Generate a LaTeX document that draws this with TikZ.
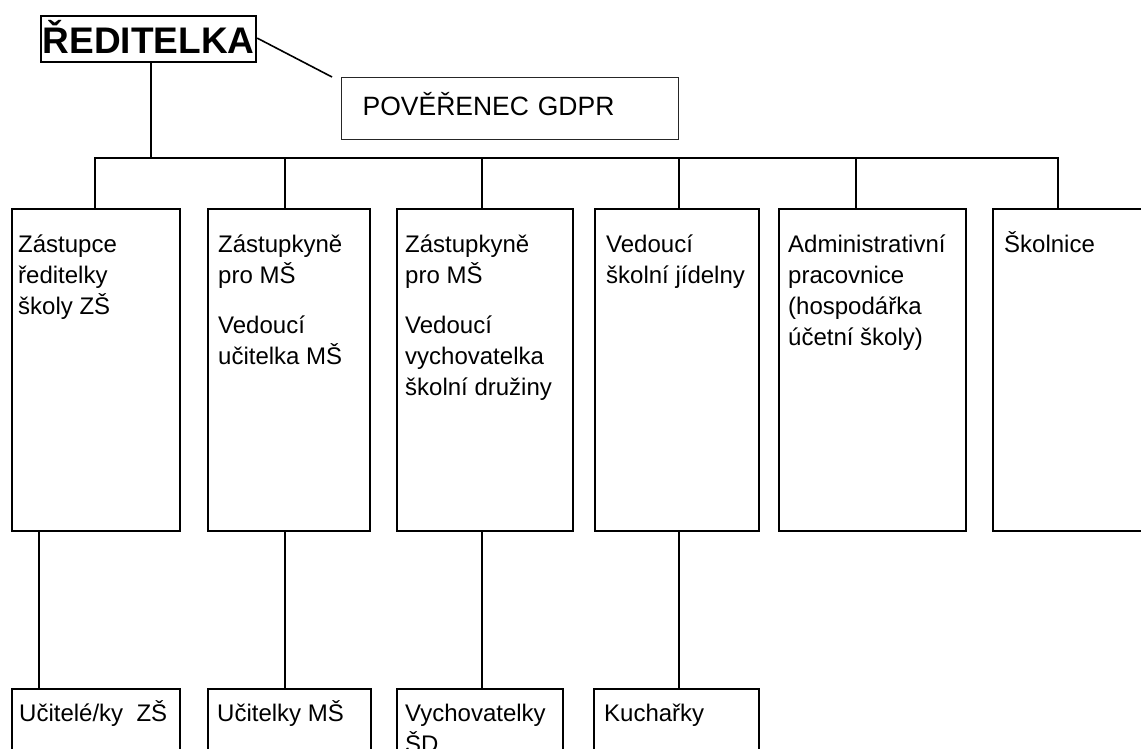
\documentclass[tikz,border=0pt]{standalone}
\usepackage{fontspec}
\setmainfont{Liberation Sans}
\begin{document}
\begin{tikzpicture}[x=1pt,y=-1pt,
  orgbox/.style={draw, line width=2.2pt, inner sep=0pt, anchor=north west},
  boxtxt/.style={anchor=base west, align=left, inner sep=0pt, font=\fontsize{24}{31}\selectfont},
  link/.style={line width=2.2pt}]
\useasboundingbox (0,0) rectangle (1141,749);
\clip (0,0) rectangle (1141,749);
\fill[white] (0,0) rectangle (1141,749);

% top
\node[orgbox, minimum width=215pt, minimum height=46pt, text height=30pt, text depth=2pt,
      font=\bfseries\fontsize{37}{40}\selectfont] (boss) at (40,15) {ŘEDITELKA};
\node[draw=black!85, line width=1.3pt, anchor=north west, inner xsep=21pt, inner ysep=0pt,
      minimum height=62pt, text width=295pt, align=left, text height=20pt, text depth=6pt,
      font=\fontsize{26.5}{30}\selectfont] (gdpr) at (341,77) {POVĚŘENEC GDPR};
\coordinate (gend) at ([shift={(-9,0)}]gdpr.north west);
\draw[line width=1.6pt] ([yshift=1pt]boss.east) -- (gend);

% first row boxes
\node[orgbox, minimum width=168pt, minimum height=322pt] (b1) at (11,208) {};
\node[orgbox, minimum width=162pt, minimum height=322pt] (b2) at (207,208) {};
\node[orgbox, minimum width=176pt, minimum height=322pt] (b3) at (396,208) {};
\node[orgbox, minimum width=164pt, minimum height=322pt] (b4) at (594,208) {};
\node[orgbox, minimum width=187pt, minimum height=322pt] (b5) at (778,208) {};
\node[orgbox, minimum width=180pt, minimum height=322pt] (b6) at (992,208) {};

% base anchor = baseline of the last line; first line baseline is 44 below box top
\node[boxtxt] (t1) at ([shift={(7,106)}]b1.north west) {Zástupce\\ředitelky\\školy ZŠ};
\node[boxtxt] (t2) at ([shift={(11,156)}]b2.north west) {Zástupkyně\\pro MŠ\\[19pt]Vedoucí\\učitelka MŠ};
\node[boxtxt] (t3) at ([shift={(9,187)}]b3.north west) {Zástupkyně\\pro MŠ\\[19pt]Vedoucí\\vychovatelka\\školní družiny};
\node[boxtxt] (t4) at ([shift={(12,75)}]b4.north west) {Vedoucí\\školní jídelny};
\node[boxtxt] (t5) at ([shift={(10,137)}]b5.north west) {Administrativní\\pracovnice\\(hospodářka\\účetní školy)};
\node[boxtxt] (t6) at ([shift={(12,44)}]b6.north west) {Školnice};

% second row boxes
\node[orgbox, minimum width=168pt, minimum height=110pt] (c1) at (11,688) {};
\node[orgbox, minimum width=163pt, minimum height=110pt] (c2) at (207,688) {};
\node[orgbox, minimum width=166pt, minimum height=110pt] (c3) at (396,688) {};
\node[orgbox, minimum width=165pt, minimum height=110pt] (c4) at (593,688) {};

\node[boxtxt] (u1) at ([shift={(8,33)}]c1.north west) {Učitelé/ky\ \ ZŠ};
\node[boxtxt] (u2) at ([shift={(10,33)}]c2.north west) {Učitelky MŠ};
\node[boxtxt] (u3) at ([shift={(9,64)}]c3.north west) {Vychovatelky\\ŠD};
\node[boxtxt] (u4) at ([shift={(11,33)}]c4.north west) {Kuchařky};

% connectors
\coordinate (bus) at (151,158);
\coordinate (j1) at (95,158);
\coordinate (j2) at (285,158);
\coordinate (j3) at (482,158);
\coordinate (j4) at (679,158);
\coordinate (j5) at (856,158);
\coordinate (j6) at (1058,158);
\draw[link] (boss.south -| bus) -- (bus);
\draw[link] (j1 |- b1.north) -- (j1) -- (j6) -- (j6 |- b6.north);
\draw[link] (j2) -- (j2 |- b2.north);
\draw[link] (j3) -- (j3 |- b3.north);
\draw[link] (j4) -- (j4 |- b4.north);
\draw[link] (j5) -- (j5 |- b5.north);

\coordinate (k1) at (39,530);
\coordinate (k2) at (285,530);
\coordinate (k3) at (482,530);
\coordinate (k4) at (679,530);
\draw[link] (k1) -- (k1 |- c1.north);
\draw[link] (k2) -- (k2 |- c2.north);
\draw[link] (k3) -- (k3 |- c3.north);
\draw[link] (k4) -- (k4 |- c4.north);
\end{tikzpicture}
\end{document}
